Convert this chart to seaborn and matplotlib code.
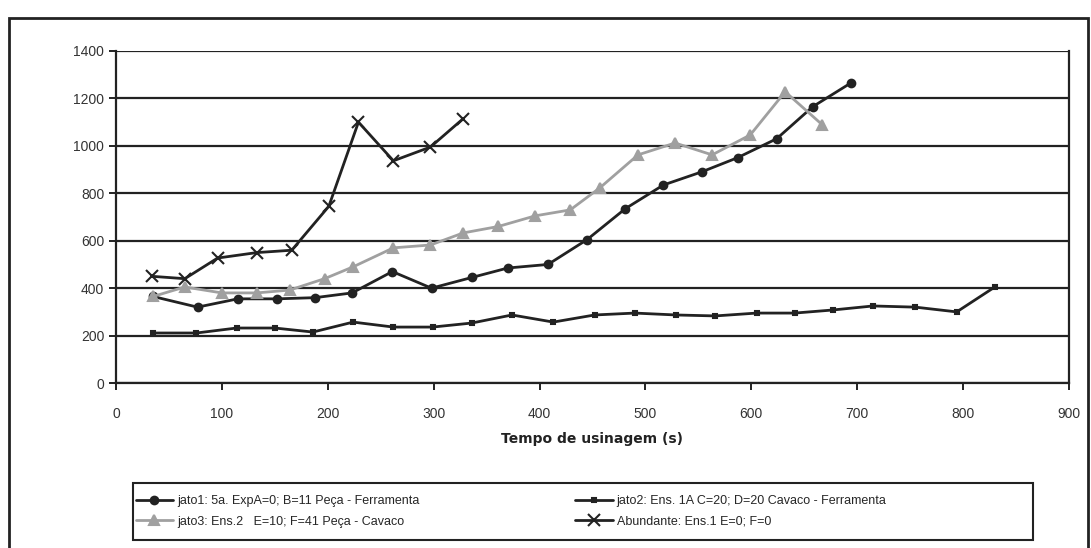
import matplotlib
matplotlib.use("Agg")
import matplotlib.pyplot as plt
from matplotlib.patches import Rectangle
import seaborn as sns
import pandas as pd

# data
jato1_x = [35, 77, 115, 152, 188, 223, 261, 298, 336, 370, 408, 445, 481, 517, 553, 587, 624, 658, 694]
jato1_y = [365, 320, 355, 355, 360, 380, 470, 400, 445, 485, 500, 605, 735, 835, 890, 950, 1030, 1165, 1265]

jato2_x = [35, 76, 114, 150, 186, 224, 262, 299, 336, 374, 413, 452, 490, 529, 566, 605, 641, 677, 715, 755, 794, 830]
jato2_y = [211, 211, 232, 232, 215, 257, 236, 236, 253, 287, 257, 287, 295, 287, 283, 295, 295, 308, 325, 320, 300, 405]

jato3_x = [35, 65, 100, 133, 164, 197, 224, 262, 297, 328, 361, 396, 429, 457, 493, 528, 563, 599, 632, 667]
jato3_y = [365, 405, 380, 380, 392, 440, 490, 570, 582, 633, 660, 705, 730, 823, 962, 1012, 962, 1046, 1228, 1089]

abund_x = [34, 65, 96, 133, 166, 201, 229, 262, 297, 328]
abund_y = [450, 440, 527, 550, 560, 745, 1100, 937, 995, 1115]

labels = [
    "jato1: 5a. ExpA=0; B=11 Peça - Ferramenta",
    "jato2: Ens. 1A C=20; D=20 Cavaco - Ferramenta",
    "jato3: Ens.2   E=10; F=41 Peça - Cavaco",
    "Abundante: Ens.1 E=0; F=0",
]

sns.set_style("white")
plt.rcParams['font.family'] = ['Liberation Sans', 'DejaVu Sans']

fig = plt.figure(figsize=(10.91, 5.48), dpi=100)
ax = fig.add_axes([0.1063, 0.301, 0.8735, 0.606])

series = [
    (jato1_x, jato1_y, labels[0], "#222222", "o", 5.5),
    (jato2_x, jato2_y, labels[1], "#222222", "s", 3.5),
    (jato3_x, jato3_y, labels[2], "#a0a0a0", "^", 7),
    (abund_x, abund_y, labels[3], "#222222", "x", 8),
]
for xs, ys, lab, col, mk, ms in series:
    df = pd.DataFrame({"t": xs, "v": ys})
    sns.lineplot(data=df, x="t", y="v", ax=ax, color=col, marker=mk, markersize=ms,
                 linewidth=2, label=lab, markeredgecolor=col, markeredgewidth=1.5,
                 estimator=None, sort=False)

ax.set_xlim(0, 900)
ax.set_ylim(0, 1400)
ax.set_xticks(range(0, 901, 100))
ax.set_yticks(range(0, 1401, 200))
ax.yaxis.grid(True, color="#222222", linewidth=1.6)
ax.set_axisbelow(True)
for side in ["left", "bottom", "right"]:
    ax.spines[side].set_color("#222222")
    ax.spines[side].set_linewidth(1.6)
ax.spines["top"].set_visible(False)
ax.tick_params(axis="both", direction="out", length=5, width=1.4, color="#222222",
               labelsize=10, labelcolor="#333333", left=True, bottom=True)
ax.tick_params(axis="x", pad=12)
ax.set_xlabel("Tempo de usinagem (s)", fontsize=10, fontweight="bold", labelpad=8,
              family="DejaVu Sans", color="#222222")
ax.set_ylabel("")

handles, labs = ax.get_legend_handles_labels()
ax.get_legend().remove()
order = [0, 2, 1, 3]
leg = fig.legend([handles[i] for i in order], [labs[i] for i in order], ncol=2,
                 loc="center left", bbox_to_anchor=(0.122, 0.067), frameon=False,
                 fontsize=9, handlelength=3, handletextpad=0.3, columnspacing=12.5,
                 borderaxespad=0, borderpad=0.2, labelspacing=0.7)

# legend box and outer border
fig.patches.append(Rectangle((0.122, 0.015), 0.825, 0.104, transform=fig.transFigure,
                             fill=False, edgecolor="#222222", linewidth=1.5))
fig.patches.append(Rectangle((0.008, -0.01), 0.989, 0.978, transform=fig.transFigure,
                             fill=False, edgecolor="#222222", linewidth=2))

fig.savefig("out.png", dpi=100)
